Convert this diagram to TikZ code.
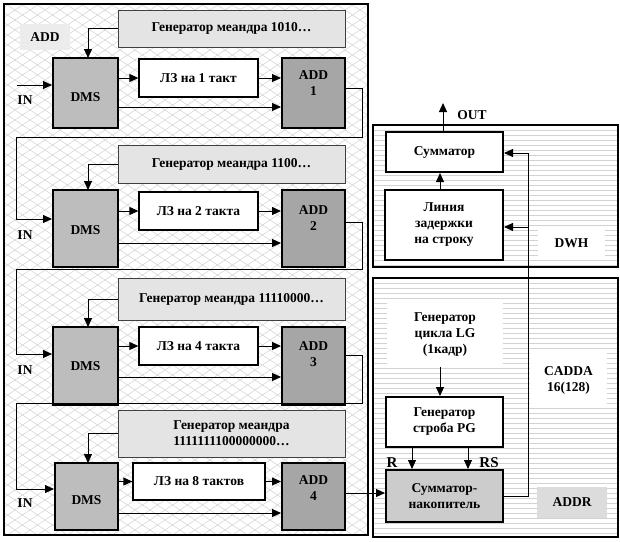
\documentclass[tikz,border=0pt]{standalone}
\usepackage{fontspec}
\setmainfont{Liberation Serif}
\usetikzlibrary{arrows.meta}
\definecolor{dmsfill}{HTML}{BDBDBD}
\definecolor{addfill}{HTML}{A6A6A6}
\definecolor{genfill}{HTML}{E4E4E4}
\definecolor{accfill}{HTML}{CCCCCC}
\definecolor{lblfill}{HTML}{DCDCDC}
\definecolor{hatch}{HTML}{D2D2D2}
\begin{document}
\begin{tikzpicture}[x=1pt,y=-1pt,
  txt/.style={font=\bfseries\fontsize{13.5}{16}\selectfont, align=center},
  genbox/.style={txt, draw=black!75, line width=0.9pt, fill=genfill, minimum width=227pt, inner sep=0pt},
  dmsbox/.style={txt, draw=black, line width=2pt, fill=dmsfill, minimum width=65pt, inner sep=0pt},
  addbox/.style={draw=black, line width=2pt, fill=addfill, minimum width=63pt, inner sep=0pt},
  lzbox/.style={txt, draw=black, line width=1.3pt, fill=white, minimum width=119pt, minimum height=38pt, inner sep=0pt},
  wbox/.style={txt, draw=black, line width=2pt, fill=white, minimum width=117pt, inner sep=0pt},
  lbl/.style={txt, inner sep=0pt},
  frame/.style={draw=black, line width=1.4pt},
  arr/.style={line width=0.9pt, -{Triangle[length=9pt,width=8pt]}},
  ln/.style={line width=0.9pt}
]
\useasboundingbox (0,0) rectangle (620,541);
\fill[white] (0,0) rectangle (620,541);

% ---- left panel hatching
\begin{scope}
  \clip (4,4) rectangle (368,535);
  \foreach \k in {-45,...,100} {
    \draw[hatch, line width=0.5pt] (0,10*\k) -- (420,10*\k+280);
    \draw[hatch, line width=0.5pt] (0,10*\k) -- (420,10*\k-280);
  }
\end{scope}
\draw[frame] (4,4) rectangle (368,535);

% ---- right panels stripes
\begin{scope}
  \clip (373,125) rectangle (618,267);
  \foreach \k in {0,...,30} \draw[hatch, line width=0.5pt] (373,125+5*\k) -- (618,125+5*\k);
\end{scope}
\begin{scope}
  \clip (373,278) rectangle (618,537);
  \foreach \k in {0,...,55} \draw[hatch, line width=0.5pt] (373,278+5*\k) -- (618,278+5*\k);
\end{scope}
\draw[frame] (373,125) rectangle (618,267);
\draw[frame] (373,278) rectangle (618,537);

% ---- ADD label
\node[lbl, fill=genfill!70, minimum width=50pt, minimum height=26pt] (addlbl) at (45,37) {ADD};

% ================= Stage 1
\node[genbox, minimum height=37pt] (gen1) at (231.5,28.5) {Генератор меандра 1010…};
\node[dmsbox, minimum height=70pt] (dms1) at (85.5,93) {};
\node[lbl] (dmst1) at (85.5,97) {DMS};
\node[lzbox] (lz1) at (198.5,78) {ЛЗ на 1 такт};
\node[addbox, minimum height=70pt] (add1) at (313.5,93) {};
\node[lbl] (addt1) at (313.5,83) {ADD\\1};
\coordinate (in1) at (17,85);
\node[lbl] (inl1) at (25,100) {IN};
\draw[arr] (gen1.west) -| (88,58);
\draw[arr] (in1) -- (dms1.west |- in1);
\draw[arr] (dms1.east |- lz1) -- (lz1.west);
\draw[arr] (lz1.east) -- (add1.west |- lz1);
\draw[arr] (dms1.east |- 0,107) -- (add1.west |- 0,107);

% ================= Stage 2
\node[genbox, minimum height=38pt] (gen2) at (231.5,164) {Генератор меандра 1100…};
\node[dmsbox, minimum height=77pt] (dms2) at (85.5,228.5) {};
\node[lbl] (dmst2) at (85.5,230) {DMS};
\node[lzbox] (lz2) at (198.5,211) {ЛЗ на 2 такта};
\node[addbox, minimum height=77pt] (add2) at (313.5,228.5) {};
\node[lbl] (addt2) at (313.5,218) {ADD\\2};
\node[lbl] (inl2) at (25,235) {IN};
\draw[arr] (gen2.west) -| (88,190);
\draw[arr] (dms2.east |- lz2) -- (lz2.west);
\draw[arr] (lz2.east) -- (add2.west |- lz2);
\draw[arr] (dms2.east |- 0,243) -- (add2.west |- 0,243);
\draw[arr] (add1.east |- 0,88) -- (362,88) -- (362,137) -- (16,137) -- (16,219) -- (dms2.west |- 0,219);

% ================= Stage 3
\node[genbox, minimum height=42pt] (gen3) at (231.5,299) {Генератор меандра 11110000…};
\node[dmsbox, minimum height=78pt] (dms3) at (85.5,366) {};
\node[lbl] (dmst3) at (85.5,366) {DMS};
\node[lzbox] (lz3) at (198.5,346) {ЛЗ на 4 такта};
\node[addbox, minimum height=78pt] (add3) at (313.5,366) {};
\node[lbl] (addt3) at (313.5,354) {ADD\\3};
\node[lbl] (inl3) at (25,370) {IN};
\draw[arr] (gen3.west) -| (88,327);
\draw[arr] (dms3.east |- lz3) -- (lz3.west);
\draw[arr] (lz3.east) -- (add3.west |- lz3);
\draw[arr] (dms3.east |- 0,377) -- (add3.west |- 0,377);
\draw[arr] (add2.east |- 0,222) -- (362,222) -- (362,269) -- (16,269) -- (16,354) -- (dms3.west |- 0,354);

% ================= Stage 4
\node[genbox, minimum height=47pt] (gen4) at (231.5,433.5) {Генератор меандра\\1111111100000000…};
\node[dmsbox, minimum width=63pt, minimum height=67pt] (dms4) at (86.5,496.5) {};
\node[lbl] (dmst4) at (86.5,500) {DMS};
\node[lzbox, minimum width=132pt, minimum height=37pt] (lz4) at (199,481.5) {ЛЗ на 8 тактов};
\node[addbox, minimum height=67pt] (add4) at (313.5,496.5) {};
\node[lbl] (addt4) at (313.5,488) {ADD\\4};
\node[lbl] (inl4) at (25,503) {IN};
\draw[arr] (gen4.west) -| (88,463);
\draw[arr] (dms4.east |- lz4) -- (lz4.west);
\draw[arr] (lz4.east) -- (add4.west |- lz4);
\draw[arr] (dms4.east |- 0,513) -- (add4.west |- 0,513);
\draw[arr] (add3.east |- 0,355) -- (362,355) -- (362,403) -- (16,403) -- (16,489) -- (dms4.west |- 0,489);

% ================= DWH
\node[wbox, minimum height=40pt] (sum) at (444.5,152) {Сумматор};
\node[wbox, minimum width=118pt, minimum height=70pt] (lin) at (444,225) {Линия\\задержки\\на строку};
\node[lbl, fill=white, minimum width=67pt, minimum height=27pt] (dwh) at (571.5,243.5) {DWH};
\coordinate (out) at (443,103);
\node[lbl] (outl) at (472,115) {OUT};
\draw[arr] (sum.north -| out) -- (out);
\draw[arr] (lin.north -| 440,0) -- (sum.south -| 440,0);

% ================= CADDA
\node[lbl, fill=white, minimum width=116pt, minimum height=64pt] (lg) at (445,335) {Генератор\\цикла LG\\(1кадр)};
\node[lbl, fill=white, minimum width=77pt, minimum height=54pt] (cadda) at (568.5,380) {CADDA\\16(128)};
\node[wbox, minimum height=50pt] (pg) at (444.5,422) {Генератор\\строба PG};
\node[wbox, fill=accfill, minimum height=52pt] (acc) at (444.5,496) {Сумматор-\\накопитель};
\node[lbl, fill=lblfill, minimum width=70pt, minimum height=31pt] (addr) at (572,502.5) {ADDR};
\node[lbl, font=\bfseries\fontsize{15}{16}\selectfont] (rl) at (392,463) {R};
\node[lbl, font=\bfseries\fontsize{15}{16}\selectfont] (rsl) at (489,463) {RS};
\draw[arr] (lg.south -| 440,0) -- (pg.north -| 440,0);
\draw[arr] (pg.south -| 412,0) -- (acc.north -| 412,0);
\draw[arr] (pg.south -| 468,0) -- (acc.north -| 468,0);

% feedback accumulator -> DWH
\coordinate (fb) at (528,496);
\draw[arr] (acc.east) -- (fb) -- (528,153) -- (sum.east |- 0,153);
\draw[arr] (528,227) -- (lin.east |- 0,227);

% ADD4 -> accumulator
\draw[arr] (add4.east |- 0,493) -- (acc.west |- 0,493);
\end{tikzpicture}
\end{document}
